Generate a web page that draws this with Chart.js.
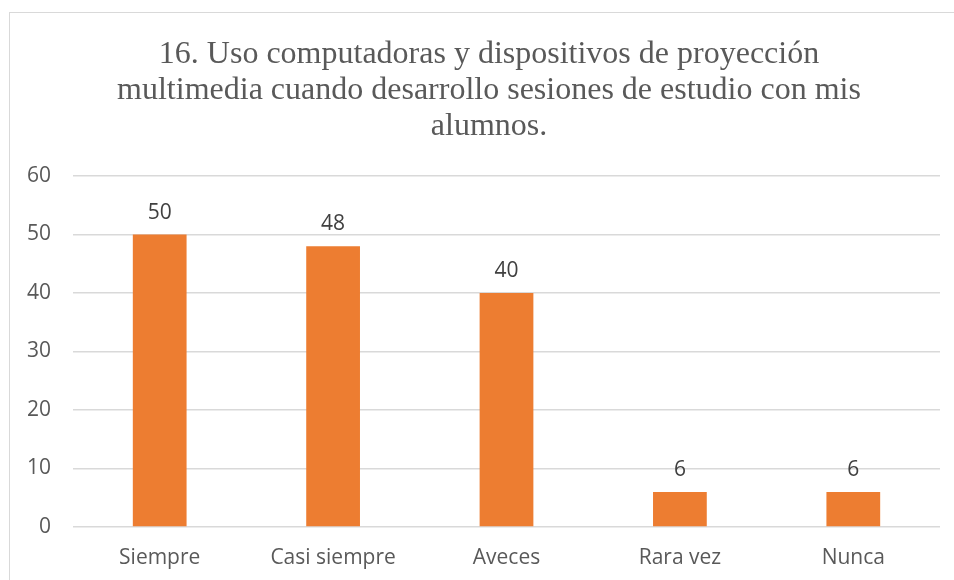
<!DOCTYPE html>
<html>
<head>
<meta charset="utf-8">
<script src="https://cdn.jsdelivr.net/npm/chart.js@4"></script>
<style>
    html, body { margin: 0; padding: 0; background: #fff; overflow: hidden; }
    #marco { position: absolute; left: 9px; top: 12px; width: 1200px; height: 1200px; border: 1px solid #d9d9d9; }
    #caja { position: absolute; left: 0; top: 0; width: 978px; height: 580px; }
</style>
</head>
<body>
<div id="marco"></div>
<div id="caja"><canvas id="grafico"></canvas></div>
<script>
// datos del gráfico
const categorias = ['Siempre', 'Casi siempre', 'Aveces', 'Rara vez', 'Nunca']
const valores = [50, 48, 40, 6, 6]
const ticksY = [0, 10, 20, 30, 40, 50, 60]
const titulo = [
    '16. Uso computadoras y dispositivos de proyección',
    'multimedia cuando desarrollo sesiones de estudio con mis',
    'alumnos.'
]

// título centrado sobre todo el marco (no sólo el área con padding)
const tituloCentrado = {
    id: 'tituloCentrado',
    afterDraw(chart) {
        const ctx = chart.ctx
        ctx.save()
        ctx.font = '32px "Liberation Serif", "Times New Roman", serif'
        ctx.fillStyle = '#595959'
        ctx.textAlign = 'center'
        ctx.textBaseline = 'alphabetic'
        titulo.forEach((linea, i) => {
            ctx.fillText(linea, chart.width / 2, 62.5 + i * 36.3)
        })
        ctx.restore()
    }
}

// etiquetas encima de cada barra
const etiquetas = {
    id: 'etiquetas',
    afterDatasetsDraw(chart) {
        const ctx = chart.ctx
        const meta = chart.getDatasetMeta(0)
        ctx.save()
        ctx.font = '21px "Open Sans"'
        ctx.fillStyle = '#404040'
        ctx.textAlign = 'center'
        ctx.textBaseline = 'alphabetic'
        meta.data.forEach((barra, i) => {
            ctx.fillText(String(valores[i]), barra.x, barra.y - 16)
        })
        ctx.restore()
    }
}

const ctx = document.getElementById('grafico').getContext('2d')
new Chart(ctx, {
    type: 'bar',
    data: {
        labels: categorias,
        datasets: [{
            data: valores,
            backgroundColor: '#ED7D31',
            categoryPercentage: 1,
            barPercentage: 0.31
        }]
    },
    options: {
        responsive: true,
        maintainAspectRatio: false,
        animation: false,
        layout: { padding: { left: 0, right: 38, top: 176, bottom: 0 } },
        plugins: {
            legend: { display: false },
            tooltip: { enabled: false },
            title: { display: false }
        },
        scales: {
            x: {
                grid: { display: false, drawTicks: false },
                border: { display: false },
                ticks: { color: '#595959', font: { family: '"Open Sans"', size: 21 }, padding: 18, maxRotation: 0 },
                afterFit: s => { s.height = 53 }
            },
            y: {
                min: 0,
                max: 60,
                afterBuildTicks: s => { s.ticks = ticksY.map(v => ({ value: v })) },
                grid: { color: '#d9d9d9', lineWidth: 1.5, drawTicks: false },
                border: { display: false },
                ticks: { color: '#595959', font: { family: '"Open Sans"', size: 21 }, padding: 22 },
                afterFit: s => { s.width = 73 }
            }
        }
    },
    plugins: [etiquetas, tituloCentrado]
})
</script>
</body>
</html>
